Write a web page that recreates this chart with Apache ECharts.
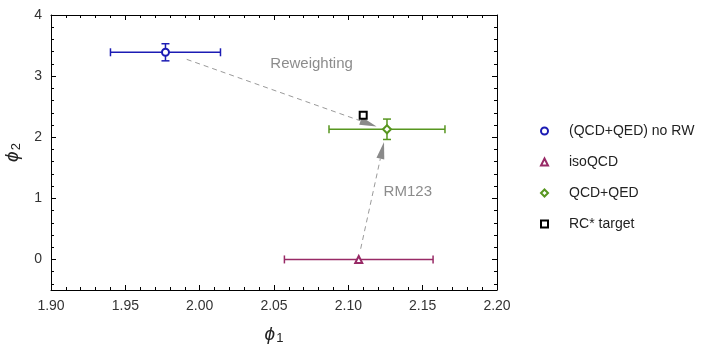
<!DOCTYPE html>
<html>
<head>
<meta charset="utf-8">
<script src="https://cdn.jsdelivr.net/npm/echarts@6/dist/echarts.min.js"></script>
<style>
html,body{margin:0;padding:0;background:#fff}
#main{width:716px;height:345px}
</style>
</head>
<body>
<div id="main"></div>
<script>
var myChart=echarts.init(document.getElementById('main'))

// points
var names=['(QCD+QED) no RW','isoQCD','QCD+QED','RC* target']
var xVals=[1.977,2.107,2.126,2.110]
var yVals=[3.39,0.0,2.13,2.36]
var xErr=[0.037,0.050,0.039,0]
var yErr=[0.14,0,0.167,0]
var symbols=['emptyCircle','emptyTriangle','emptyDiamond','emptyRect']
var colors=['#1c1cb4','#982a66','#57961f','#000000']

// arrows
var arrowFrom=[[1.9913,3.274],[2.1083,0.175]]
var arrowTo=[[2.1190,2.175],[2.1240,1.923]]

// annotations
var noteX=[2.0753,2.1400]
var noteY=[3.208,1.098]
var noteText=['Reweighting','RM123']

// ticks
var yTicks=[0,1,2,3,4]
var yMinor=[]
for(var v=-0.4;v<4;v+=0.2){
    var r=Math.round(v*10)/10
    if(Math.abs(r-Math.round(r))>1e-6) yMinor.push(r)
}

var font='"Liberation Sans", Arial, sans-serif'

function xAxisCfg(pos,showLabel){
    return {
        type:'value',position:pos,min:1.9,max:2.2,interval:0.05,
        axisLine:{show:true,onZero:false,lineStyle:{color:'#000',width:1}},
        axisTick:{show:true,inside:true,length:5,lineStyle:{color:'#000'}},
        minorTick:{show:true,splitNumber:5,length:3,lineStyle:{color:'#000'}},
        axisLabel:{show:showLabel,fontSize:14,color:'#333',fontFamily:font,margin:9,
            formatter:function(v){return v.toFixed(2)}},
        splitLine:{show:false}
    }
}
function yAxisCfg(pos,ticks,len,line,showLabel){
    return {
        type:'value',position:pos,min:-0.5,max:4,
        axisLine:{show:line,onZero:false,lineStyle:{color:'#000',width:1}},
        axisTick:{show:true,inside:true,length:len,customValues:ticks,lineStyle:{color:'#000'}},
        axisLabel:{show:showLabel,customValues:yTicks,fontSize:14,color:'#333',fontFamily:font,margin:9},
        splitLine:{show:false}
    }
}

var rich={
    i:{fontStyle:'italic',fontSize:19,fontFamily:font,color:'#222'},
    s:{fontSize:13,fontFamily:font,color:'#222',verticalAlign:'bottom',padding:[8,0,0,1]}
}

var xa=xAxisCfg('bottom',true)
xa.name='{i|ϕ}{s|1}'
xa.nameLocation='middle'
xa.nameGap=34
xa.nameTextStyle={rich:rich}
var ya=yAxisCfg('left',yTicks,5,true,true)
ya.name='{i|ϕ}{s|2}'
ya.nameLocation='middle'
ya.nameGap=26
ya.nameTextStyle={rich:rich}

var errData=[]
for(var k=0;k<names.length;k++) errData.push([xVals[k],yVals[k],xErr[k],yErr[k]])
var arrowData=[]
for(var k=0;k<arrowFrom.length;k++) arrowData.push([arrowFrom[k][0],arrowFrom[k][1],arrowTo[k][0],arrowTo[k][1]])
var noteData=[]
for(var k=0;k<noteText.length;k++) noteData.push([noteX[k],noteY[k],noteText[k]])

var series=[]
series.push({
    type:'custom',name:'err',z:2,silent:true,
    data:errData,
    encode:{x:0,y:1},
    renderItem:function(params,api){
        var x=api.value(0),y=api.value(1),ex=api.value(2),ey=api.value(3)
        var c=colors[params.dataIndex]
        var st={stroke:c,lineWidth:1.5}
        var ch=[]
        if(ex>0){
            var a=api.coord([x-ex,y]),b=api.coord([x+ex,y])
            ch.push({type:'line',shape:{x1:a[0],y1:a[1],x2:b[0],y2:b[1]},style:st})
            ch.push({type:'line',shape:{x1:a[0],y1:a[1]-4,x2:a[0],y2:a[1]+4},style:st})
            ch.push({type:'line',shape:{x1:b[0],y1:b[1]-4,x2:b[0],y2:b[1]+4},style:st})
        }
        if(ey>0){
            var a=api.coord([x,y-ey]),b=api.coord([x,y+ey])
            ch.push({type:'line',shape:{x1:a[0],y1:a[1],x2:b[0],y2:b[1]},style:st})
            ch.push({type:'line',shape:{x1:a[0]-4,y1:a[1],x2:a[0]+4,y2:a[1]},style:st})
            ch.push({type:'line',shape:{x1:b[0]-4,y1:b[1],x2:b[0]+4,y2:b[1]},style:st})
        }
        return {type:'group',children:ch}
    }
})
series.push({
    type:'custom',name:'arrows',z:3,silent:true,
    data:arrowData,
    encode:{x:[0,2],y:[1,3]},
    renderItem:function(params,api){
        var p0=api.coord([api.value(0),api.value(1)])
        var p1=api.coord([api.value(2),api.value(3)])
        var dx=p1[0]-p0[0],dy=p1[1]-p0[1]
        var len=Math.sqrt(dx*dx+dy*dy)
        var ux=dx/len,uy=dy/len
        var hl=17,hw=4
        var bx=p1[0]-ux*hl,by=p1[1]-uy*hl
        return {type:'group',children:[
            {type:'line',shape:{x1:p0[0],y1:p0[1],x2:bx,y2:by},
                style:{stroke:'#9a9a9a',lineWidth:1,lineDash:[5,4]}},
            {type:'polygon',shape:{points:[[p1[0],p1[1]],[bx-uy*hw,by+ux*hw],[bx+uy*hw,by-ux*hw]]},
                style:{fill:'#8a8a8a'}}
        ]}
    }
})
series.push({
    type:'custom',name:'notes',z:3,silent:true,
    data:noteData,
    encode:{x:0,y:1},
    renderItem:function(params,api){
        var p=api.coord([api.value(0),api.value(1)])
        return {type:'text',style:{text:noteText[params.dataIndex],x:p[0],y:p[1],
            fill:'#8c8c8c',fontSize:15,fontFamily:font,align:'center',verticalAlign:'middle'}}
    }
})
for(var k=0;k<names.length;k++){
    series.push({
        type:'scatter',name:names[k],z:5,
        symbol:symbols[k],symbolSize:k==2?8:7,
        itemStyle:{color:colors[k],borderColor:colors[k],borderWidth:2,opacity:1},
        data:[[xVals[k],yVals[k]]]
    })
}

var option={
    animation:false,
    backgroundColor:'#fff',
    textStyle:{fontFamily:font},
    grid:{left:51,top:15,width:446,height:275,containLabel:false,outerBoundsMode:'none'},
    legend:{
        data:names,orient:'vertical',left:535,top:119,
        itemWidth:7,itemHeight:7,itemGap:17,
        textStyle:{fontSize:14,color:'#222',fontFamily:font,padding:[0,0,0,16]},
        itemStyle:{borderWidth:2.5,opacity:1},
        selectedMode:false
    },
    xAxis:[xa,xAxisCfg('top',false)],
    yAxis:[ya,yAxisCfg('left',yMinor,3,false,false),
        yAxisCfg('right',yTicks,5,true,false),yAxisCfg('right',yMinor,3,false,false)],
    series:series
}
myChart.setOption(option)
</script>
</body>
</html>
